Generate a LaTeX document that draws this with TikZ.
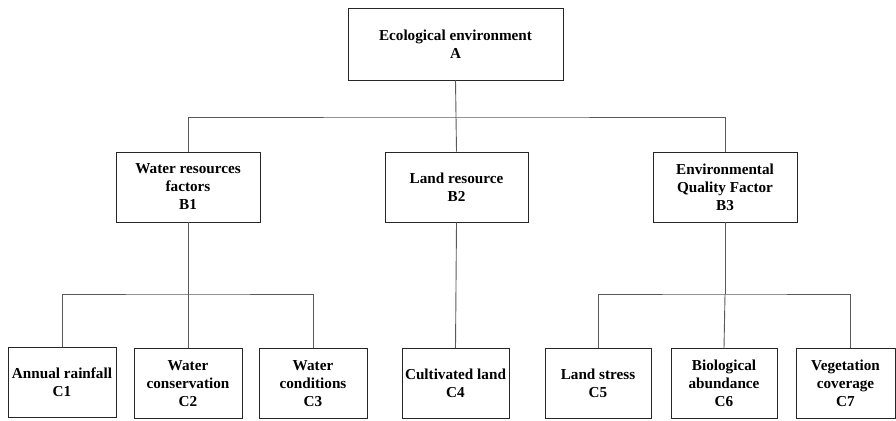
\documentclass[tikz,border=0pt]{standalone}
\usepackage{fontspec}
\setmainfont{Liberation Serif}
\begin{document}
\begin{tikzpicture}[x=1pt,y=-1pt,
  box/.style={draw=black!85, line width=0.9pt, align=center, inner sep=0pt,
    font=\fontsize{15.2}{18}\selectfont\bfseries, anchor=center},
  conn/.style={draw=black!65, line width=0.9pt}]
\useasboundingbox (0,0) rectangle (896,420);
\node[box, minimum width=215, minimum height=72] (A) at (455.5,44) {Ecological environment\\A};
\node[box, minimum width=144, minimum height=70] (B1) at (188,187) {Water resources\\factors\\B1};
\node[box, minimum width=143, minimum height=70] (B2) at (456.5,187) {Land resource\\B2};
\node[box, minimum width=144, minimum height=70] (B3) at (725,187) {Environmental\\Quality Factor\\B3};
\node[box, minimum width=108, minimum height=70] (C1) at (62,382.5) {Annual rainfall\\C1};
\node[box, minimum width=108, minimum height=70] (C2) at (188,383.5) {Water\\conservation\\C2};
\node[box, minimum width=108, minimum height=70] (C3) at (313,383.5) {Water\\conditions\\C3};
\node[box, minimum width=107, minimum height=70] (C4) at (455.5,383.5) {Cultivated land\\C4};
\node[box, minimum width=106, minimum height=70] (C5) at (598,383.5) {Land stress\\C5};
\node[box, minimum width=106, minimum height=70] (C6) at (724,383.5) {Biological\\abundance\\C6};
\node[box, minimum width=99, minimum height=70] (C7) at (845.5,383) {Vegetation\\coverage\\C7};
\coordinate (hA) at (456,117);
\coordinate (hB1) at (188,294);
\coordinate (hB3) at (725,294);
\coordinate (c7top) at (850,348);
\draw[conn] (A.south) -- (B2.north);
\draw[conn] (B1.north) |- (hA) -| (B3.north);
\draw[conn] (B1.south) -- (C2.north);
\draw[conn] (C1.north) |- (hB1) -| (C3.north);
\draw[conn] (B2.south) -- (C4.north);
\draw[conn] (B3.south) -- (hB3);
\draw[conn] (C5.north) |- (hB3) -| (c7top);
\draw[conn] (hB3) -- (C6.north);
\end{tikzpicture}
\end{document}
